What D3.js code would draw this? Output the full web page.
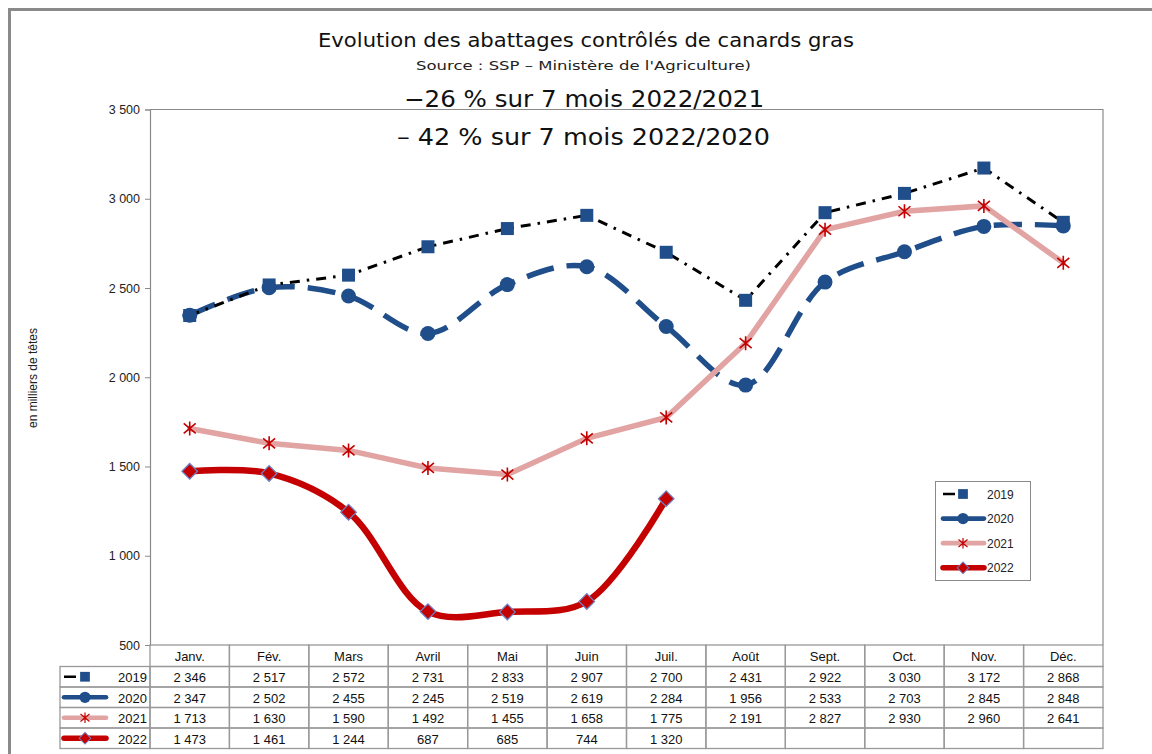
<!DOCTYPE html>
<html><head><meta charset="utf-8">
<script src="https://cdn.jsdelivr.net/npm/d3@7"></script>
<style>body{margin:0;background:#fff}svg{display:block}</style>
</head><body>
<script>
const months = ["Janv.","Fév.","Mars","Avril","Mai","Juin","Juil.","Août","Sept.","Oct.","Nov.","Déc."];
const years = ["2019","2020","2021","2022"];
const v2019 = [2346,2517,2572,2731,2833,2907,2700,2431,2922,3030,3172,2868];
const v2020 = [2347,2502,2455,2245,2519,2619,2284,1956,2533,2703,2845,2848];
const v2021 = [1713,1630,1590,1492,1455,1658,1775,2191,2827,2930,2960,2641];
const v2022 = [1473,1461,1244,687,685,744,1320];
const yTicks = [500,1000,1500,2000,2500,3000,3500];
const titleText = "Evolution des abattages contrôlés de canards gras";
const sourceText = "Source : SSP – Ministère de l'Agriculture)";
const line1Text = "−26 % sur 7 mois 2022/2021";
const line2Text = "– 42 % sur 7 mois 2022/2020";
const yTitle = "en milliers de têtes";

const W = 1152, H = 754;
const svg = d3.select("body").append("svg").attr("width", W).attr("height", H);
const fr = d3.formatLocale({decimal: ",", thousands: "\u202f", grouping: [3], currency: ["", ""]});
const fmt = v => fr.format(",")(v).replace(/\u202f/g, " ");

// outer frame
svg.append("path").attr("d", `M9.5,${H} L9.5,9.5 L${W},9.5`).attr("fill", "none")
  .attr("stroke", "#8a8a8a").attr("stroke-width", 3);

const L = 150, R = 1103, T = 109.5, B = 645;
const x = d3.scaleBand().domain(months).range([L, R]);
const cx = m => x(m) + x.bandwidth() / 2;
const y = d3.scaleLinear().domain([500, 3500]).range([B, T]);

// plot border
svg.append("path").attr("d", `M${L},${T} L${R},${T} L${R},${B}`).attr("fill", "none")
  .attr("stroke", "#8a8a8a").attr("stroke-width", 1.2);

// y axis
const ax = svg.append("g").attr("transform", `translate(${L},0)`)
  .call(d3.axisLeft(y).tickValues(yTicks).tickSize(5).tickPadding(5).tickFormat(fmt));
ax.select(".domain").attr("stroke", "#8a8a8a").attr("stroke-width", 1.2);
ax.selectAll(".tick line").attr("stroke", "#8a8a8a");
ax.selectAll("text").attr("font-family", "Liberation Sans, Arial, sans-serif").attr("font-size", 12.5).attr("fill", "#222");

svg.append("text").attr("transform", `translate(37,378) rotate(-90)`).attr("text-anchor", "middle")
  .attr("font-family", "Liberation Sans, Arial, sans-serif").attr("font-size", 12).attr("fill", "#222").text(yTitle);

// titles
const tf = "DejaVu Sans, sans-serif";
function title(txt, cxp, by, size, len, col) {
  svg.append("text").attr("x", cxp - len / 2).attr("y", by).attr("font-family", tf)
    .attr("font-size", size).attr("fill", col).attr("textLength", len)
    .attr("lengthAdjust", "spacingAndGlyphs").text(txt);
}
title(titleText, 586, 47, 20, 536, "#111");
title(sourceText, 583.5, 70, 12.5, 335, "#222");
title(line1Text, 584, 107, 23, 360, "#111");
title(line2Text, 583.5, 145, 23, 373, "#111");

// series styles
const blue = "#1f4e8a", pink = "#e2a3a3", red = "#c40000";
const styles = {
  "2019": {values: v2019, color: "#000", width: 3, dash: "10,7,2.5,7", curve: d3.curveLinear},
  "2020": {values: v2020, color: blue, width: 5.5, dash: "28,13", curve: d3.curveCatmullRom.alpha(0.5)},
  "2021": {values: v2021, color: pink, width: 5.5, dash: null, curve: d3.curveLinear},
  "2022": {values: v2022, color: red, width: 6.5, dash: null, curve: d3.curveCatmullRom.alpha(0.5)}
};

function marker(g, yr, px, py) {
  if (yr === "2019") {
    g.append("rect").attr("x", px - 6.5).attr("y", py - 6.5).attr("width", 13).attr("height", 13).attr("fill", blue);
  } else if (yr === "2020") {
    g.append("circle").attr("cx", px).attr("cy", py).attr("r", 7.5).attr("fill", blue);
  } else if (yr === "2021") {
    g.append("path").attr("d", `M${px},${py-7}L${px},${py+7}M${px-6},${py-5}L${px+6},${py+5}M${px-6},${py+5}L${px+6},${py-5}`)
      .attr("stroke", red).attr("stroke-width", 1.6).attr("fill", "none");
  } else {
    g.append("rect").attr("x", -5.5).attr("y", -5.5).attr("width", 11).attr("height", 11)
      .attr("transform", `translate(${px},${py}) rotate(45)`).attr("fill", red)
      .attr("stroke", "#6f7fc0").attr("stroke-width", 1.3);
  }
}

const drawOrder = ["2020", "2019", "2021", "2022"];
drawOrder.forEach(yr => {
  const s = styles[yr];
  const pts = s.values.map((v, i) => [cx(months[i]), y(v)]);
  const p = svg.append("path").attr("d", d3.line().curve(s.curve)(pts)).attr("fill", "none")
    .attr("stroke", s.color).attr("stroke-width", s.width).attr("stroke-linecap", "round");
  if (s.dash) p.attr("stroke-dasharray", s.dash).attr("stroke-linecap", "butt");
});
drawOrder.forEach(yr => {
  const g = svg.append("g");
  styles[yr].values.forEach((v, i) => marker(g, yr, cx(months[i]), y(v)));
});

// legend
const lg = svg.append("g");
lg.append("rect").attr("x", 935.5).attr("y", 481.5).attr("width", 95).attr("height", 99)
  .attr("fill", "#fff").attr("stroke", "#8a8a8a").attr("stroke-width", 1);
function legendSample(g, yr, x0, x1, yy, mx) {
  const s = styles[yr];
  const l = g.append("line").attr("x1", x0).attr("x2", x1).attr("y1", yy).attr("y2", yy)
    .attr("stroke", s.color).attr("stroke-width", s.width * 0.85).attr("stroke-linecap", "round");
  if (yr === "2019") l.attr("stroke-dasharray", "12,5,2.5,30").attr("stroke-linecap", "butt");
  const mg = g.append("g").attr("transform", `translate(${mx},${yy}) scale(0.75) translate(${-mx},${-yy})`);
  marker(mg, yr, mx, yy);
}
years.forEach((yr, i) => {
  const yy = 494 + i * 24.6;
  legendSample(lg, yr, 943, 984, yy, 963);
  lg.append("text").attr("x", 987).attr("y", yy + 4.5).attr("font-family", "Liberation Sans, Arial, sans-serif")
    .attr("font-size", 12).attr("fill", "#222").text(yr);
});

// data table
const tb = svg.append("g");
const rowTop = [B, 666.5, 687, 707.5, 728];
const rowH = 20.5;
const hdrH = rowTop[1] - B;
const tcol = "#999";
const tfont = "Liberation Sans, Arial, sans-serif";
months.forEach(m => {
  tb.append("rect").attr("x", x(m)).attr("y", B).attr("width", x.bandwidth()).attr("height", hdrH)
    .attr("fill", "none").attr("stroke", tcol).attr("stroke-width", 1.3);
  tb.append("text").attr("x", cx(m)).attr("y", B + 16).attr("text-anchor", "middle")
    .attr("font-family", tfont).attr("font-size", 13).attr("fill", "#111").text(m);
});
years.forEach((yr, r) => {
  const top = rowTop[r + 1];
  tb.append("rect").attr("x", 60).attr("y", top).attr("width", L - 60).attr("height", rowH)
    .attr("fill", "none").attr("stroke", tcol).attr("stroke-width", 1.3);
  legendSample(tb, yr, 64, 106, top + rowH / 2, 85);
  tb.append("text").attr("x", 147).attr("y", top + 15.5).attr("text-anchor", "end")
    .attr("font-family", tfont).attr("font-size", 13).attr("fill", "#111").text(yr);
  months.forEach((m, i) => {
    tb.append("rect").attr("x", x(m)).attr("y", top).attr("width", x.bandwidth()).attr("height", rowH)
      .attr("fill", "none").attr("stroke", tcol).attr("stroke-width", 1.3);
    const v = styles[yr].values[i];
    if (v !== undefined) tb.append("text").attr("x", cx(m)).attr("y", top + 15.5).attr("text-anchor", "middle")
      .attr("font-family", tfont).attr("font-size", 13).attr("fill", "#111").text(fmt(v));
  });
});
</script>
</body></html>
